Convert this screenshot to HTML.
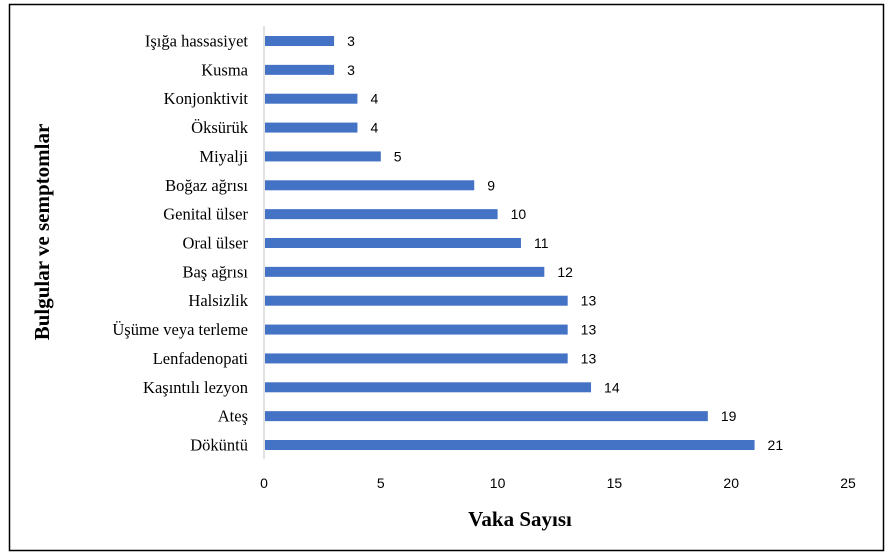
<!DOCTYPE html>
<html><head><meta charset="utf-8"><style>
body{margin:0;background:#fff;}
svg{display:block;}
</style></head><body>
<svg width="889" height="556" viewBox="0 0 889 556" xmlns="http://www.w3.org/2000/svg">
<rect x="9.5" y="4.5" width="874" height="546" fill="#fff" stroke="#000" stroke-width="1.5"/>
<line x1="264" y1="26" x2="264" y2="459" stroke="#d9d9d9" stroke-width="1.5"/>
<g id="bars"></g>
<g id="ticks"></g>
<text x="520" y="526" text-anchor="middle" font-family="Liberation Serif, serif" font-weight="bold" font-size="21">Vaka Sayısı</text>
<text transform="translate(49,232) rotate(-90)" text-anchor="middle" font-family="Liberation Serif, serif" font-weight="bold" font-size="21">Bulgular ve semptomlar</text>
<script>
const categories=["Işığa hassasiyet","Kusma","Konjonktivit","Öksürük","Miyalji","Boğaz ağrısı","Genital ülser","Oral ülser","Baş ağrısı","Halsizlik","Üşüme veya terleme","Lenfadenopati","Kaşıntılı lezyon","Ateş","Döküntü"];
const values=[3,3,4,4,5,9,10,11,12,13,13,13,14,19,21];
const tickLabels=[0,5,10,15,20,25];
const NS="http://www.w3.org/2000/svg";
const x0=264,xMax=25,pxW=848-264;
function xs(v){return x0+v/xMax*pxW;}
function ys(i){return 41+i*(445-41)/(categories.length-1);}
const bars=document.getElementById('bars');
categories.forEach((c,i)=>{
 const y=ys(i);
 const r=document.createElementNS(NS,'rect');
 
 
 r.setAttribute('x',x0+1);r.setAttribute('y',y-5);
 r.setAttribute('width',xs(values[i])-x0-1);r.setAttribute('height',10);
 r.setAttribute('fill','#4472c4');bars.appendChild(r);
 const l=document.createElementNS(NS,'text');
 
 
 l.setAttribute('x',248);l.setAttribute('y',y+5.5);
 l.setAttribute('text-anchor','end');l.setAttribute('font-family','Liberation Serif, serif');
 l.setAttribute('font-size','16.5');l.textContent=c;bars.appendChild(l);
 const v=document.createElementNS(NS,'text');
 
 
 v.setAttribute('x',xs(values[i])+13);v.setAttribute('y',y+5);
 v.setAttribute('font-family','Liberation Sans, sans-serif');
 v.setAttribute('font-size','14');v.textContent=values[i];bars.appendChild(v);
});
const ticks=document.getElementById('ticks');
tickLabels.forEach(t=>{
 const e=document.createElementNS(NS,'text');
 
 
 e.setAttribute('x',xs(t));e.setAttribute('y',488);
 e.setAttribute('text-anchor','middle');
 e.setAttribute('font-family','Liberation Sans, sans-serif');
 e.setAttribute('font-size','14');e.textContent=t;ticks.appendChild(e);
});
</script>
</svg>
</body></html>
